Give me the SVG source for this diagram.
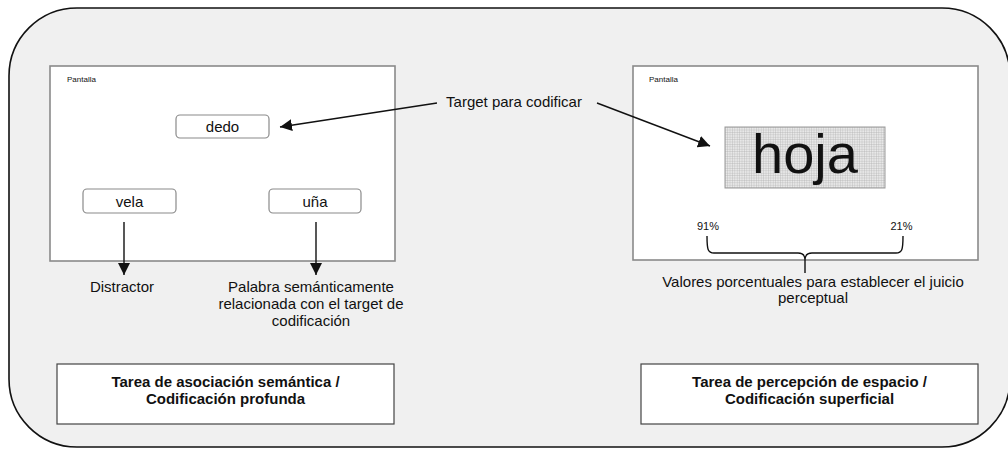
<svg xmlns="http://www.w3.org/2000/svg" width="1008" height="449" viewBox="0 0 1008 449">
<style>
.t{font-family:"Liberation Sans",Arial,sans-serif;fill:#111;}
.lbl{font-size:15px;}
.bold{font-size:15px;font-weight:bold;}
.small{font-size:8px;}
.pct{font-size:11px;}
.screen{fill:#fff;stroke:#8a8a8a;stroke-width:1.6;}
.word{fill:#fff;stroke:#8a8a8a;stroke-width:1.2;}
.task{fill:#fff;stroke:#444;stroke-width:1.2;}
.conn{stroke:#111;stroke-width:1.4;fill:none;}
</style>
<defs>
<marker id="ah" markerUnits="userSpaceOnUse" markerWidth="13" markerHeight="12" refX="12" refY="6" orient="auto">
<path d="M0,0 L12,6 L0,12 z" fill="#111"/>
</marker>
<pattern id="grid" width="2.4" height="2.4" patternUnits="userSpaceOnUse">
<rect width="2.4" height="2.4" fill="#e8e8e8"/>
<path d="M0,0 H2.4 M0,0 V2.4" stroke="#a8a8a8" stroke-width="0.6"/>
</pattern>
</defs>
<rect id="background" x="9" y="8" width="1001" height="439" rx="68" ry="68" fill="#f0f0f0" stroke="#111" stroke-width="1.6"/>

<g id="screen-left">
<rect class="screen" x="50" y="66" width="345" height="195"/>
<text class="t small" x="67" y="82">Pantalla</text>
</g>
<g id="node-dedo">
<rect class="word" x="176" y="115" width="93" height="23" rx="4"/>
<text class="t lbl" x="222.5" y="132" text-anchor="middle">dedo</text>
</g>
<g id="node-vela">
<rect class="word" x="83" y="189" width="93" height="24" rx="4"/>
<text class="t lbl" x="129.5" y="206.5" text-anchor="middle">vela</text>
</g>
<g id="node-una">
<rect class="word" x="269" y="189" width="92" height="24" rx="4"/>
<text class="t lbl" x="315" y="206.5" text-anchor="middle">uña</text>
</g>

<g id="screen-right">
<rect class="screen" x="633" y="66" width="345" height="194"/>
<text class="t small" x="649" y="82">Pantalla</text>
</g>
<g id="node-hoja">
<rect x="725" y="127" width="160" height="61" fill="url(#grid)" stroke="#999" stroke-width="1"/>
<text class="t" x="805" y="173" text-anchor="middle" font-size="56">hoja</text>
</g>
<g id="label-91">
<text class="t pct" x="708" y="230" text-anchor="middle">91%</text>
</g>
<g id="label-21">
<text class="t pct" x="901.5" y="230" text-anchor="middle">21%</text>
</g>

<g id="label-target">
<text class="t lbl" x="514" y="107" text-anchor="middle">Target para codificar</text>
</g>
<g id="label-distractor">
<text class="t lbl" x="122" y="292" text-anchor="middle">Distractor</text>
</g>
<g id="label-palabra">
<text class="t lbl" x="311" y="292" text-anchor="middle">Palabra semánticamente</text>
<text class="t lbl" x="311" y="309" text-anchor="middle">relacionada con el target de</text>
<text class="t lbl" x="311" y="326" text-anchor="middle">codificación</text>
</g>
<g id="label-valores">
<text class="t lbl" x="813" y="287" text-anchor="middle">Valores porcentuales para establecer el juicio</text>
<text class="t lbl" x="813" y="303" text-anchor="middle">perceptual</text>
</g>

<g id="task-left">
<rect class="task" x="57" y="364" width="337" height="60"/>
<text class="t bold" x="225.5" y="387" text-anchor="middle">Tarea de asociación semántica /</text>
<text class="t bold" x="225.5" y="404" text-anchor="middle">Codificación profunda</text>
</g>
<g id="task-right">
<rect class="task" x="641" y="364" width="337" height="60"/>
<text class="t bold" x="809.5" y="387" text-anchor="middle">Tarea de percepción de espacio /</text>
<text class="t bold" x="809.5" y="404" text-anchor="middle">Codificación superficial</text>
</g>

<g id="connectors">
<line class="conn" x1="437" y1="103" x2="280" y2="127" marker-end="url(#ah)"/>
<line class="conn" x1="597" y1="103" x2="710" y2="146" marker-end="url(#ah)"/>
<line class="conn" x1="124" y1="222" x2="124" y2="275" marker-end="url(#ah)"/>
<line class="conn" x1="316" y1="222" x2="316" y2="275" marker-end="url(#ah)"/>
<path class="conn" d="M707,236 C707,250 708,253 714,253 L798,253 C803,253 805,255 805,260 L805,273 M805,260 C805,255 807,253 812,253 L896,253 C902,253 903,250 903,236"/>
</g>
</svg>
